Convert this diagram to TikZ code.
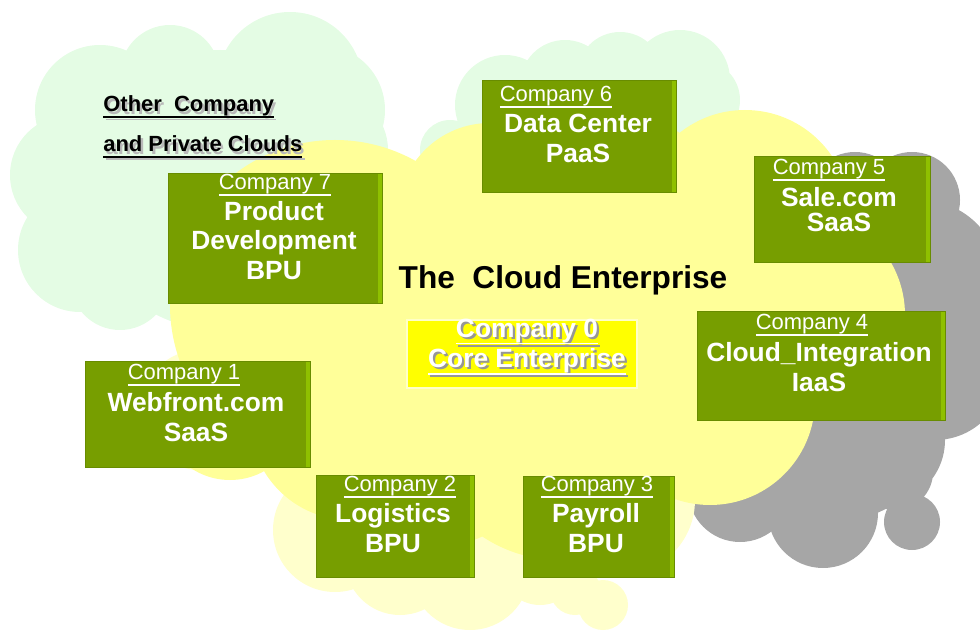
\documentclass[tikz,border=0pt]{standalone}
\usepackage{fontspec}
\setmainfont{Liberation Sans}
\definecolor{cloudgreen}{RGB}{228,252,228}
\definecolor{cloudyellow}{RGB}{255,255,153}
\definecolor{paleyellow}{RGB}{255,255,204}
\definecolor{cloudgray}{RGB}{166,166,166}
\definecolor{boxgreen}{RGB}{119,158,0}
\definecolor{boxlight}{RGB}{143,192,0}
\definecolor{boxedge}{RGB}{104,140,0}
\definecolor{coreyellow}{RGB}{255,255,0}
\definecolor{corerim}{RGB}{255,255,200}
\definecolor{shadowgray}{RGB}{150,150,150}
\definecolor{softgray}{RGB}{185,185,185}
\def\namefont{\bfseries\fontsize{15}{17}\selectfont}
\def\titlefont{\fontsize{12.5}{14}\selectfont}
\newcommand\ulined[1]{\setbox0=\hbox{#1}\leavevmode\rlap{\rule[-0.27em]{\wd0}{0.07em}}\box0}
\newcommand\shadowtext[2]{\makebox[0pt][l]{\hspace{1.3pt}\raisebox{-1.3pt}{\textcolor{#1}{#2}}}#2}
\tikzset{
  compbox/.style={fill=boxgreen, draw=boxedge, line width=0.5pt,
    path picture={\fill[boxlight] ([xshift=-2.5pt]path picture bounding box.north east) rectangle (path picture bounding box.south east);}},
  comptitle/.style={text=white, font=\titlefont, inner sep=0pt},
  compname/.style={text=white, font=\namefont, align=center, inner sep=0pt},
}

\begin{document}
\begin{tikzpicture}[x=0.02cm,y=-0.02cm]
			%%%%% START %%%%%
			\useasboundingbox (0,0) rectangle (980,631);
			\clip (0,0) rectangle (980,631);
			
			% other clouds
			\fill[cloudgreen] (100,110) circle (65) (170,75) circle (50) (290,85) circle (73) (320,110) circle (65) (330,150) circle (58)
				(70,175) circle (60) (80,250) circle (62) (120,280) circle (50) (220,190) circle (140);
			\fill[cloudgreen] (505,105) circle (50) (565,85) circle (45) (620,75) circle (43) (680,80) circle (50) (700,100) circle (40)
				(450,150) circle (30) (600,130) circle (60);
			\fill[cloudgray] (855,200) circle (48) (912,200) circle (48) (920,280) circle (80) (870,330) circle (110) (935,370) circle (70)
				(840,420) circle (100) (880,440) circle (65) (895,472) circle (38) (823,513) circle (55) (740,490) circle (52) (912,522) circle (28);
			
			% the cloud enterprise
			\fill[paleyellow] (200,410) circle (60) (335,530) circle (62) (400,560) circle (55) (470,570) circle (60) (540,565) circle (40)
				(575,590) circle (25) (603,605) circle (25) (620,500) circle (75);
			\fill[cloudyellow] (335,305) circle (165) (490,215) circle (92) (745,215) circle (105) (800,315) circle (105) (710,400) circle (105)
				(600,260) circle (150) (420,400) circle (150) (560,420) circle (140) (350,420) circle (100) (230,410) circle (70);
			
			\node[font=\bfseries\fontsize{12.5}{22.7}\selectfont, align=left, anchor=west, inner sep=0pt] (others) at (103,128)
				{\shadowtext{softgray}{\ulined{Other\ \ Company}}\\\shadowtext{softgray}{\ulined{and Private Clouds}}};
			\node[font=\bfseries\fontsize{18}{20}\selectfont, inner sep=0pt] (cloudent) at (563,280) {The\ \ Cloud Enterprise};
			
			\path[fill=coreyellow, draw=corerim, line width=1.2pt] (407,320) rectangle (637,388);
			\node[compname, font=\bfseries\fontsize{15}{14}\selectfont] (c0) at (527,348)
				{\shadowtext{shadowgray}{\ulined{Company 0}}\\\shadowtext{shadowgray}{\ulined{Core Enterprise}}};
			
			% companies
			\path[compbox] (482,80) rectangle (676,192);
			\node[comptitle] (c6t) at (556,97) {\ulined{Company 6}};
			\node[compname] (c6) at (578,138) {Data Center\\PaaS};
			
			\path[compbox] (754,156) rectangle (930,262);
			\node[comptitle] (c5t) at (829,170) {\ulined{Company 5}};
			\node[compname, font=\bfseries\fontsize{15}{14.2}\selectfont] (c5) at (839,209.5) {Sale.com\\SaaS};
			
			\path[compbox] (168,173) rectangle (382,303);
			\node[comptitle] (c7t) at (275,185) {\ulined{Company 7}};
			\node[compname] (c7) at (274,240.5) {Product\\Development\\BPU};
			
			\path[compbox] (697,311) rectangle (945,420);
			\node[comptitle] (c4t) at (812,325) {\ulined{Company 4}};
			\node[compname] (c4) at (819,367.5) {Cloud\_Integration\\IaaS};
			
			\path[compbox] (85,361) rectangle (310,467);
			\node[comptitle] (c1t) at (184,375) {\ulined{Company 1}};
			\node[compname] (c1) at (196,417) {Webfront.com\\SaaS};
			
			\path[compbox] (316,475) rectangle (474,577);
			\node[comptitle] (c2t) at (400,487) {\ulined{Company 2}};
			\node[compname] (c2) at (393,528) {Logistics\\BPU};
			
			\path[compbox] (523,476) rectangle (674,577);
			\node[comptitle] (c3t) at (597,487) {\ulined{Company 3}};
			\node[compname] (c3) at (596,528) {Payroll\\BPU};
			
			%%%%% END %%%%%
		\end{tikzpicture}
\end{document}
